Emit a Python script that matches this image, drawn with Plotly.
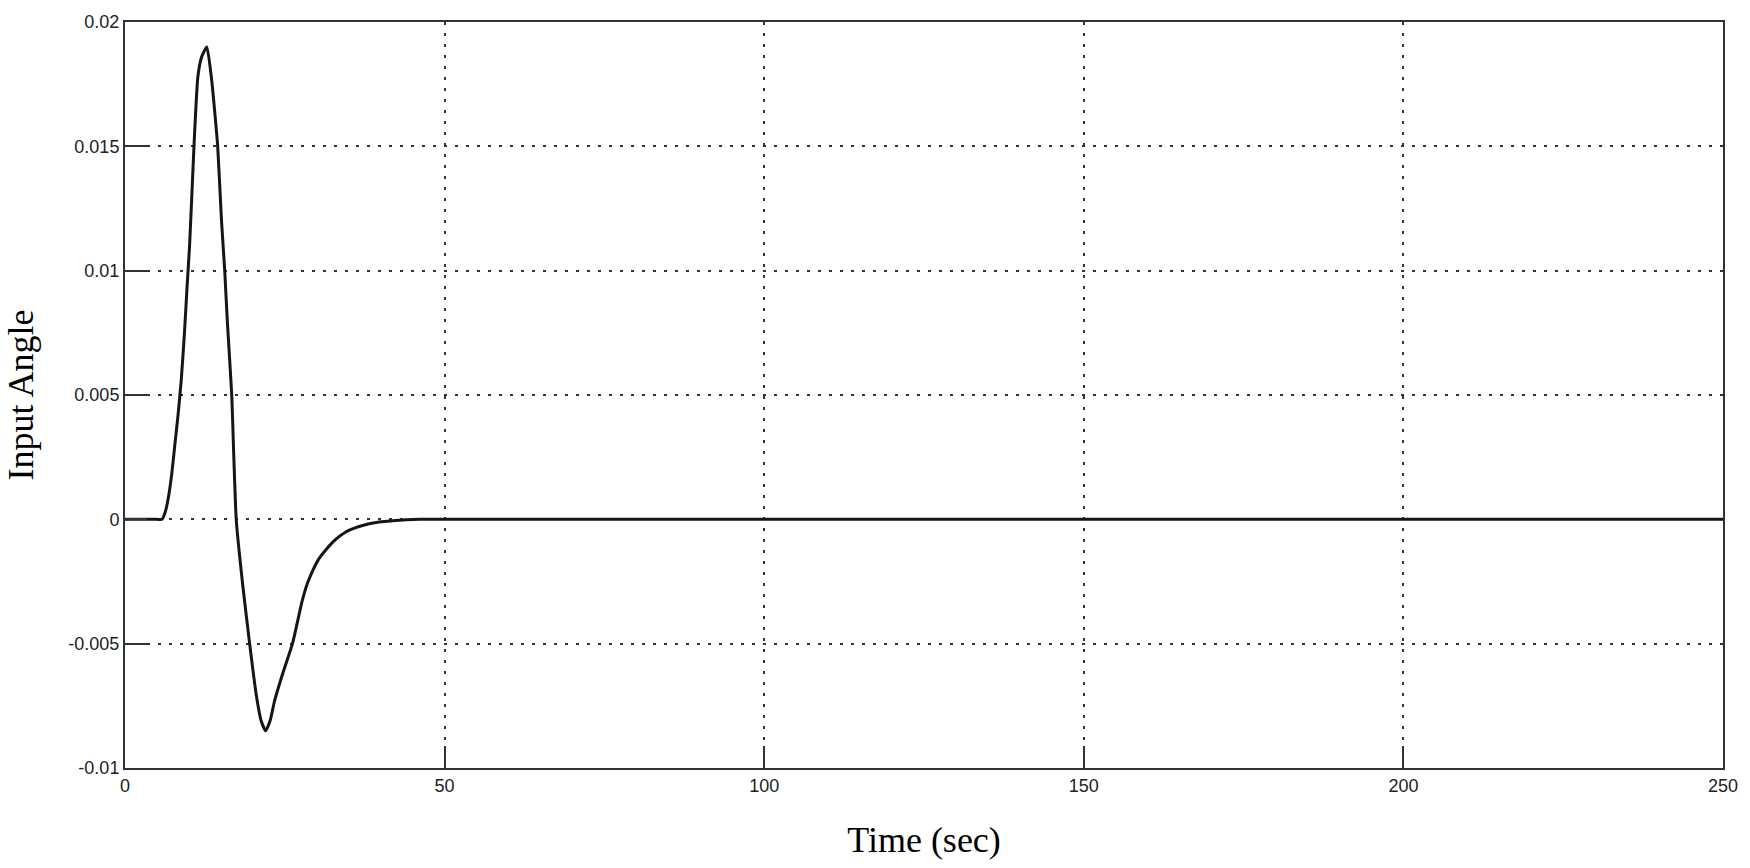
import plotly.graph_objects as go

# values
time_sec = [0, 5.0, 5.8, 6.3, 6.8, 7.3, 7.8, 8.3, 8.8, 9.3, 9.7, 10.1, 10.5, 10.9,
            11.4, 12.0, 12.8, 13.5, 14.0, 14.5, 15.1, 15.6, 16.0, 16.7, 17.0, 17.4,
            18.4, 19.5, 20.5, 21.3, 22.0, 22.7, 23.4, 24.8, 26.2, 27.7, 28.5, 29.3,
            30.3, 31.5, 33.0, 34.6, 36.5, 38.2, 40.0, 41.8, 44.0, 46, 60, 100, 150,
            200, 250]
input_angle = [0, 0, 0, 0.0003, 0.0009, 0.0018, 0.003, 0.0042, 0.0056, 0.0075, 0.0093,
               0.011, 0.0133, 0.0156, 0.0178, 0.0186, 0.019, 0.0178, 0.0165, 0.015,
               0.012, 0.01, 0.008, 0.005, 0.0027, 0, -0.0026, -0.005, -0.007, -0.0081,
               -0.0085, -0.0081, -0.0073, -0.0061, -0.005, -0.0033, -0.0026, -0.0021,
               -0.0016, -0.0012, -0.0008, -0.0005, -0.0003, -0.00018, -0.0001,
               -0.00006, -0.00002, 0, 0, 0, 0, 0, 0]

x_ticks = [0, 50, 100, 150, 200, 250]
y_ticks = [-0.01, -0.005, 0, 0.005, 0.01, 0.015, 0.02]
y_tick_labels = ["-0.01", "-0.005", "0", "0.005", "0.01", "0.015", "0.02"]

fig = go.Figure()
fig.add_trace(go.Scatter(
    x=time_sec, y=input_angle, mode="lines",
    line=dict(color="#151515", width=3, shape="spline", smoothing=0.5),
    showlegend=False,
))

tick_font = dict(family="Liberation Sans, Arial, sans-serif", size=18, color="#222")
title_font = dict(family="Liberation Serif, Times New Roman, serif", size=36, color="black")

fig.update_layout(
    width=1750, height=868,
    margin=dict(l=125, r=21, t=17, b=100),
    paper_bgcolor="white", plot_bgcolor="white",
    xaxis=dict(
        range=[0, 250], tickvals=x_ticks, ticks="inside", ticklen=22,
        tickcolor="#333", tickwidth=1.5,
        showline=True, linecolor="#333", linewidth=2, mirror=True,
        showgrid=True, gridcolor="#333", gridwidth=2, griddash="3px,8px",
        zeroline=False, tickfont=tick_font,
        title=dict(text="Time (sec)", font=title_font, standoff=32),
    ),
    yaxis=dict(
        range=[-0.01, 0.02], tickvals=y_ticks, ticktext=y_tick_labels,
        ticks="inside", ticklen=22, tickcolor="#333", tickwidth=1.5,
        showline=True, linecolor="#333", linewidth=2, mirror=True,
        showgrid=True, gridcolor="#333", gridwidth=2, griddash="3px,8px",
        zeroline=False, tickfont=tick_font,
        title=dict(text="Input Angle", font=title_font, standoff=24),
    ),
)

# drop the default page margin so the figure sits at the window's corner
fig.write_html("out.html", config={"displayModeBar": False},
               post_script="document.body.style.margin='0';")
